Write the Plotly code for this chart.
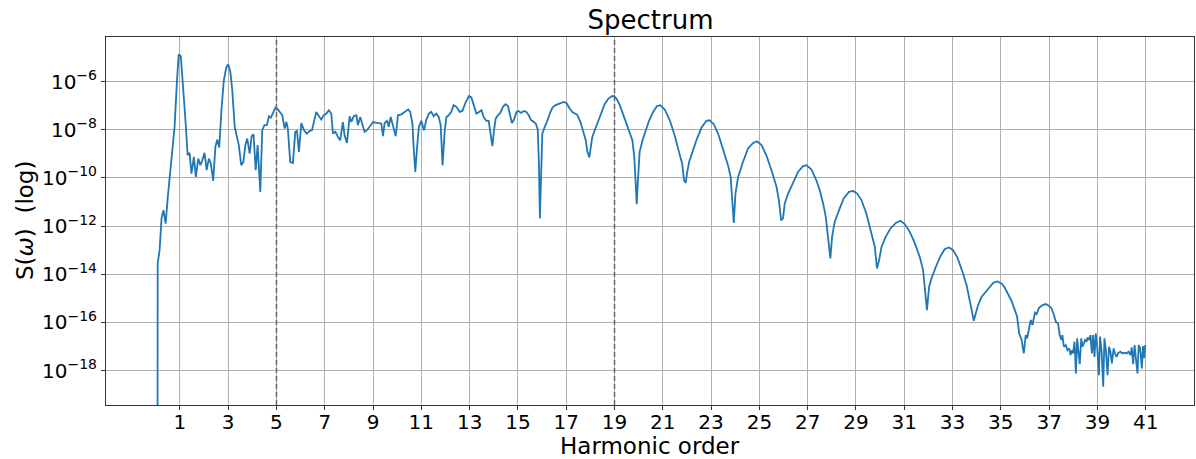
import numpy as np
import plotly.graph_objects as go

# Harmonic spectrum S(omega), stored as (harmonic order, log10 S) in three bands.
# Band 1: low orders, fundamental and 3rd harmonic, up to the plateau onset.
order_low = [0.07, 0.08, 0.16, 0.24, 0.32, 0.41, 0.50, 0.64, 0.78, 0.88, 0.95, 1.04, 1.12, 1.24,
             1.32, 1.40, 1.48, 1.58, 1.66, 1.76, 1.85, 1.93, 2.02, 2.11, 2.20, 2.28, 2.38,
             2.47, 2.55, 2.63, 2.73, 2.82, 2.92, 3.00, 3.09, 3.17, 3.27, 3.36, 3.44, 3.54,
             3.63, 3.71, 3.79, 3.89, 3.97, 4.05, 4.14, 4.22, 4.33, 4.41, 4.50, 4.60, 4.69,
             4.77, 4.87, 4.96, 5.06]
log_s_low = [-30.0, -13.55, -13.0, -11.68, -11.34, -11.9, -10.79, -9.4, -7.88, -5.95, -4.87, -4.95,
             -5.95, -7.74, -9.06, -8.96, -9.82, -9.13, -9.96, -9.2, -9.47, -9.27, -8.96, -9.68,
             -9.2, -9.4, -10.12, -8.71, -8.41, -8.74, -7.05, -5.95, -5.42, -5.28, -5.6, -6.36,
             -7.88, -8.23, -8.64, -9.47, -9.34, -8.64, -8.37, -8.99, -8.27, -8.19, -9.68, -8.64,
             -10.58, -8.02, -7.81, -7.81, -7.44, -7.5, -7.26, -7.08, -7.16]

# Band 2: plateau region (5th to 21st harmonic).
order_plateau = [5.13, 5.24, 5.34, 5.41, 5.47, 5.57, 5.68, 5.78, 5.85, 5.93, 6.03, 6.14, 6.26,
                 6.37, 6.47, 6.55, 6.65, 6.76, 6.86, 6.95, 7.07, 7.17, 7.27, 7.34, 7.44, 7.55,
                 7.64, 7.75, 7.82, 7.92, 8.03, 8.10, 8.20, 8.31, 8.37, 8.47, 8.56, 8.65, 8.75,
                 8.86, 9.00, 9.14, 9.27, 9.34, 9.41, 9.48, 9.58, 9.65, 9.73, 9.85, 9.94, 10.03,
                 10.17, 10.31, 10.45, 10.54, 10.63, 10.68, 10.75, 10.83, 10.90, 11.00, 11.11,
                 11.21, 11.31, 11.41, 11.51, 11.62, 11.72, 11.80, 11.88, 11.97, 12.04, 12.13,
                 12.24, 12.34, 12.45, 12.59, 12.70, 12.84, 12.97, 13.07, 13.17, 13.28, 13.39,
                 13.49, 13.58, 13.69, 13.79, 13.87, 13.94, 14.01, 14.08, 14.17, 14.27, 14.38,
                 14.49, 14.59, 14.66, 14.75, 14.84, 14.94, 15.03, 15.13, 15.24, 15.35, 15.45,
                 15.53, 15.62, 15.74, 15.82, 15.87, 15.91, 15.95, 16.01, 16.11, 16.20, 16.32,
                 16.43, 16.56, 16.73, 16.90, 17.01, 17.14, 17.28, 17.45, 17.59, 17.72, 17.81,
                 17.88, 17.96, 18.01, 18.08, 18.21, 18.32, 18.46, 18.59, 18.73, 18.87, 18.97,
                 19.08, 19.22, 19.35, 19.49, 19.63, 19.74, 19.82, 19.88, 19.92, 19.97, 20.04,
                 20.16, 20.29, 20.43, 20.60, 20.76, 20.90]
log_s_plateau = [-7.26, -7.4, -7.95, -7.68, -7.95, -9.34, -9.38, -8.09, -8.05, -8.92, -7.72, -8.02,
                 -8.16, -8.05, -8.02, -7.68, -7.26, -7.44, -7.58, -7.4, -7.33, -7.19, -7.33, -8.16,
                 -8.09, -8.3, -8.44, -7.68, -8.23, -8.55, -7.44, -7.68, -7.44, -7.4, -7.81, -7.47,
                 -7.74, -8.09, -8.02, -7.88, -7.68, -7.72, -7.72, -7.74, -8.27, -7.72, -7.63, -7.88,
                 -7.47, -7.88, -8.27, -7.4, -7.36, -7.26, -7.16, -7.26, -7.74, -8.71, -9.75, -8.64,
                 -7.88, -7.63, -8.02, -7.58, -7.33, -7.26, -7.44, -7.33, -7.47, -7.81, -9.47, -8.02,
                 -7.47, -7.4, -7.26, -6.98, -7.05, -7.26, -7.22, -6.85, -6.6, -6.66, -6.98, -7.33,
                 -7.26, -7.19, -7.47, -7.63, -7.63, -8.23, -8.68, -8.02, -7.54, -7.4, -7.3, -7.05,
                 -6.94, -7.02, -7.33, -7.72, -7.58, -7.26, -7.22, -7.3, -7.22, -7.26, -7.4, -7.58,
                 -7.65, -7.74, -7.99, -9.4, -11.68, -10.1, -8.16, -7.88, -7.68, -7.33, -7.08, -6.98,
                 -6.91, -6.85, -6.89, -7.12, -7.29, -7.37, -7.68, -8.13, -8.44, -8.92, -9.15, -8.78,
                 -8.3, -7.95, -7.63, -7.26, -6.94, -6.73, -6.61, -6.6, -6.71, -6.98, -7.33, -7.72,
                 -8.09, -8.44, -9.13, -10.1, -11.09, -10.1, -8.92, -8.44, -8.02, -7.63, -7.26, -7.02,
                 -6.98]

# Band 3: cutoff region, lobes decaying down to the noise floor.
order_cutoff = [21.08, 21.29, 21.49, 21.67, 21.80, 21.88, 21.95, 22.00, 22.09, 22.23, 22.39,
                22.60, 22.81, 22.94, 23.11, 23.29, 23.49, 23.70, 23.81, 23.88, 23.94, 24.01,
                24.12, 24.32, 24.53, 24.74, 24.90, 25.09, 25.29, 25.50, 25.71, 25.81, 25.90,
                25.98, 26.05, 26.19, 26.39, 26.60, 26.81, 26.95, 27.16, 27.36, 27.50, 27.64,
                27.75, 27.84, 27.94, 28.01, 28.12, 28.30, 28.49, 28.71, 28.88, 29.05, 29.23,
                29.43, 29.64, 29.78, 29.87, 29.96, 30.06, 30.23, 30.43, 30.65, 30.84, 31.02,
                31.23, 31.44, 31.64, 31.78, 31.86, 31.94, 32.03, 32.13, 32.31, 32.50, 32.68,
                32.86, 33.02, 33.20, 33.41, 33.58, 33.68, 33.78, 33.88, 33.96, 34.06, 34.20,
                34.34, 34.47, 34.68, 34.84, 35.03, 35.16, 35.30, 35.44, 35.58, 35.67, 35.76,
                35.86, 35.95, 36.03, 36.09, 36.17, 36.24, 36.31, 36.41, 36.48, 36.58, 36.73,
                36.86, 37.00, 37.10, 37.19, 37.28, 37.37, 37.44, 37.51, 37.55, 37.61, 37.69,
                37.76, 37.83, 37.89, 37.94, 37.99, 38.05, 38.11, 38.16, 38.22, 38.27, 38.33,
                38.38, 38.44, 38.49, 38.55, 38.60, 38.66, 38.71, 38.77, 38.82, 38.88, 38.93,
                38.99, 39.06, 39.11, 39.17, 39.24, 39.29, 39.35, 39.42, 39.48, 39.54, 39.60,
                39.67, 39.72, 39.79, 39.87, 39.96, 40.04, 40.12, 40.21, 40.29, 40.37, 40.42,
                40.48, 40.54, 40.60, 40.66, 40.71, 40.77, 40.84, 40.89, 40.93, 40.98]
log_s_cutoff = [-7.16, -7.61, -8.23, -8.92, -9.4, -10.1, -10.21, -9.82, -9.34, -8.92, -8.44,
                -7.92, -7.63, -7.61, -7.77, -8.16, -8.78, -9.47, -9.96, -10.79, -11.87, -10.65,
                -9.96, -9.34, -8.78, -8.55, -8.48, -8.64, -9.06, -9.68, -10.37, -10.93, -11.76,
                -11.68, -11.06, -10.65, -10.23, -9.75, -9.51, -9.47, -9.65, -10.1, -10.51, -11.06,
                -11.62, -12.45, -13.34, -12.45, -11.83, -11.34, -10.85, -10.58, -10.54, -10.65,
                -10.93, -11.48, -12.24, -12.86, -13.76, -13.41, -12.86, -12.45, -12.1, -11.87,
                -11.78, -11.92, -12.24, -12.72, -13.28, -13.83, -14.66, -15.49, -14.52, -14.17,
                -13.69, -13.25, -12.95, -12.89, -13.0, -13.3, -13.9, -14.45, -14.94, -15.49,
                -15.93, -15.63, -15.28, -14.94, -14.77, -14.59, -14.36, -14.3, -14.38, -14.55,
                -14.8, -15.1, -15.49, -15.74, -16.46, -16.73, -17.29, -16.53, -16.66, -16.32,
                -15.9, -16.11, -15.6, -15.66, -15.39, -15.28, -15.24, -15.32, -15.42, -15.66,
                -15.98, -16.04, -16.53, -16.73, -16.53, -17.01, -16.94, -17.15, -17.08, -17.36,
                -17.15, -17.29, -16.8, -18.12, -16.66, -17.29, -17.73, -16.66, -17.01, -16.87,
                -16.73, -16.8, -16.62, -16.73, -16.53, -17.29, -16.53, -17.43, -16.46, -17.01,
                -18.19, -16.59, -17.15, -18.67, -16.66, -17.15, -18.19, -17.01, -17.22, -17.7,
                -17.08, -17.26, -17.43, -17.26, -17.22, -17.29, -17.26, -17.29, -17.22, -17.36,
                -17.04, -17.73, -16.94, -17.56, -18.12, -16.94, -17.08, -17.91, -16.98, -17.49,
                -16.94]

x_ticks = list(range(1, 42, 2))
y_tick_exponents = [-6, -8, -10, -12, -14, -16, -18]
marker_orders = [5, 19]

order = np.array(order_low + order_plateau + order_cutoff)
spectrum = 10.0 ** np.array(log_s_low + log_s_plateau + log_s_cutoff)

FONT = "DejaVu Sans"
fig = go.Figure()
fig.add_trace(go.Scatter(x=order, y=spectrum, mode="lines",
                         line=dict(color="#1f77b4", width=1.8), showlegend=False,
                         hoverinfo="skip"))

for xo in marker_orders:
    fig.add_shape(type="line", xref="x", yref="paper", x0=xo, x1=xo, y0=0, y1=1,
                  line=dict(color="#666666", width=1.5, dash="5px,3px"))

axis_common = dict(showline=True, linecolor="#333333", linewidth=1, mirror=True,
                   showgrid=True, gridcolor="#b0b0b0", gridwidth=0.8,
                   ticks="outside", ticklen=4, tickcolor="#333333", zeroline=False,
                   tickfont=dict(family=FONT, size=20, color="black"))

fig.update_xaxes(range=[-2.06, 43.0], tickmode="array", tickvals=x_ticks,
                 ticktext=[str(v) for v in x_ticks], ticklabelstandoff=-5, **axis_common)
fig.update_yaxes(type="log", range=[-19.43, -4.15], tickmode="array",
                 tickvals=[10.0 ** e for e in y_tick_exponents],
                 ticktext=[f"10<sup>\u2212{abs(e)}</sup>" for e in y_tick_exponents],
                 **axis_common)

fig.update_layout(
    width=1196, height=459,
    margin=dict(l=106, r=2, t=37, b=54),
    plot_bgcolor="white", paper_bgcolor="white",
    font=dict(family=FONT, color="black"),
    title=dict(text="Spectrum", x=650.5 / 1196, xanchor="center", y=1 - 20 / 459,
               yanchor="middle", yref="container", font=dict(family=FONT, size=26)),
    annotations=[
        dict(text="Harmonic order", xref="paper", yref="paper", x=0.5, y=0,
             yshift=-41, xanchor="center", yanchor="middle", showarrow=False,
             font=dict(family=FONT, size=23)),
        dict(text="S(<i>\u03c9</i>)  (log)", xref="paper", yref="paper", x=0, y=0.5,
             xshift=-81, textangle=-90, xanchor="center", yanchor="middle",
             showarrow=False, font=dict(family=FONT, size=23)),
    ],
)

fig.write_html("out.html")
